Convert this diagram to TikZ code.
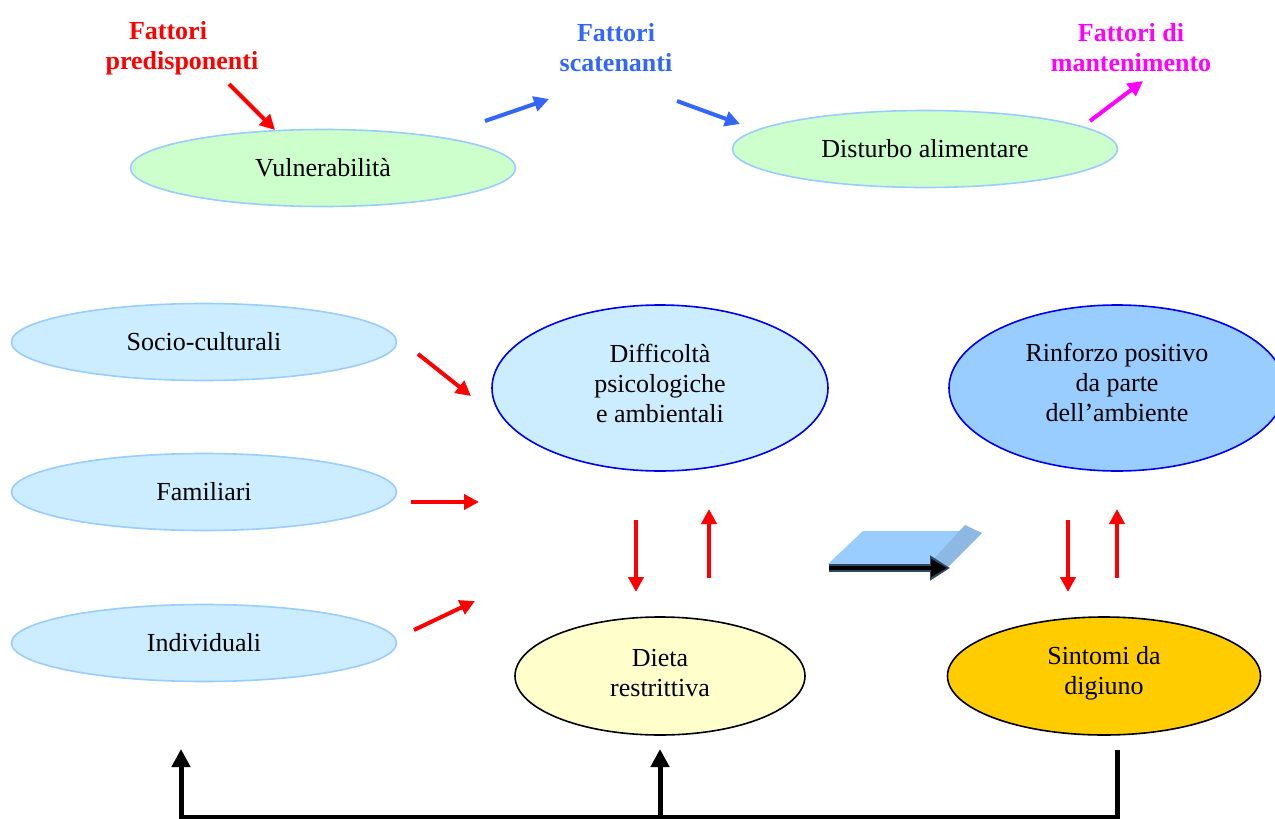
\documentclass[tikz,border=0pt]{standalone}
\usepackage{fontspec}
\setmainfont{Liberation Serif}
\usetikzlibrary{shapes.geometric,arrows.meta}
\definecolor{ellgreen}{HTML}{CCFFCC}
\definecolor{edgeblue}{HTML}{99CCFF}
\definecolor{paleblue}{HTML}{CCECFF}
\definecolor{midblue}{HTML}{99CCFF}
\definecolor{strongblue}{HTML}{0000EE}
\definecolor{paleyellow}{HTML}{FFFFCC}
\definecolor{gold}{HTML}{FFCC00}
\definecolor{titlered}{HTML}{FF0000}
\definecolor{titleblue}{HTML}{3366FF}
\definecolor{titlemag}{HTML}{FF00FF}
\definecolor{sideblue}{HTML}{8DB8E3}
\definecolor{arrowedge}{HTML}{2F4A60}
\begin{document}
\begin{tikzpicture}[x=1pt,y=-1pt,
  txt/.style={font=\fontsize{26}{30}\selectfont, align=center},
  ttl/.style={font=\fontsize{26}{30}\selectfont\bfseries, align=center},
  ell/.style={ellipse, inner sep=0pt, line width=1.6pt, txt},
  greenell/.style={ell, fill=ellgreen, draw=edgeblue, minimum width=385pt, minimum height=77pt},
  paleell/.style={ell, fill=paleblue, draw=edgeblue, minimum width=385pt, minimum height=77pt},
  bigell/.style={ell, draw=strongblue, minimum width=336pt, minimum height=166pt},
  lowell/.style={ell, draw=black, minimum height=118pt},
  redarr/.style={draw=titlered, line width=4pt, -{Triangle[length=15pt,width=15pt]}},
  bluearr/.style={draw=titleblue, line width=4pt, -{Triangle[length=15pt,width=15pt]}},
  magarr/.style={draw=titlemag, line width=4pt, -{Triangle[length=15pt,width=15pt]}},
  blackarr/.style={draw=black, line width=5pt, -{Triangle[length=18pt,width=18pt]}},
  blackline/.style={draw=black, line width=5pt}
]
\useasboundingbox (0,0) rectangle (1275,819);
\clip (0,0) rectangle (1275,819);

% titles
\node[ttl, text=titlered] (tpred) at (182,48) {Fattori\hspace*{28pt}\\predisponenti};
\node[ttl, text=titleblue] (tscat) at (616,48) {Fattori\\scatenanti};
\node[ttl, text=titlemag] (tmant) at (1131,48) {Fattori di\\mantenimento};

% top ellipses
\node[greenell] (vul) at (323,168) {Vulnerabilità};
\node[greenell] (dist) at (925,149) {Disturbo alimentare};

% left ellipses
\node[paleell] (socio) at (204,342) {Socio-culturali};
\node[paleell] (fam) at (204,492) {Familiari};
\node[paleell] (ind) at (204,643) {Individuali};

% central ellipses
\node[bigell, fill=paleblue] (diff) at (660,388) {};
\node[txt] (difft) at ([yshift=5pt]diff.center) {Difficoltà\\psicologiche\\e ambientali};
\node[bigell, fill=midblue] (rinf) at (1117,388) {};
\node[txt] (rinft) at ([yshift=5.5pt]rinf.center) {Rinforzo positivo\\da parte\\dell’ambiente};
\node[lowell, fill=paleyellow, minimum width=290pt] (dieta) at (660,676) {};
\node[txt] (dietat) at ([yshift=2.5pt]dieta.center) {Dieta\\restrittiva};
\node[lowell, fill=gold, minimum width=313pt] (sint) at (1104,676) {};
\node[txt] (sintt) at ([yshift=2.5pt]sint.center) {Sintomi da\\digiuno};

% top arrows
\coordinate (a1s) at (229,84);  \coordinate (a1e) at (275,130);
\coordinate (a2s) at (485,121); \coordinate (a2e) at (549,99);
\coordinate (a3s) at (677,101); \coordinate (a3e) at (740,124);
\coordinate (a4s) at (1090,121); \coordinate (a4e) at (1143,81);
\draw[redarr] (a1s) -- (a1e);
\draw[bluearr] (a2s) -- (a2e);
\draw[bluearr] (a3s) -- (a3e);
\draw[magarr] (a4s) -- (a4e);

% left red arrows
\coordinate (r1s) at (418,354); \coordinate (r1e) at (471,396);
\coordinate (r2s) at (411,502); \coordinate (r2e) at (479,502);
\coordinate (r3s) at (414,630); \coordinate (r3e) at (475,601);
\draw[redarr] (r1s) -- (r1e);
\draw[redarr] (r2s) -- (r2e);
\draw[redarr] (r3s) -- (r3e);

% vertical red arrows
\coordinate (d1s) at (636,520); \coordinate (d1e) at (636,592);
\coordinate (u1s) at (709,578); \coordinate (u1e) at (709,509);
\coordinate (d2s) at (1068,520); \coordinate (d2e) at (1068,592);
\coordinate (u2s) at (1117,578); \coordinate (u2e) at (1117,509);
\draw[redarr] (d1s) -- (d1e);
\draw[redarr] (u1s) -- (u1e);
\draw[redarr] (d2s) -- (d2e);
\draw[redarr] (u2s) -- (u2e);

% 3D arrow
\fill[midblue] (828,564) -- (863,531) -- (962,531) -- (932,564) -- cycle;
\fill[sideblue] (930,563) -- (965,525) -- (982,533) -- (946,569) -- cycle;
\coordinate (m1s) at (829,568); \coordinate (m1e) at (950,568);
\draw[draw=arrowedge, line width=8pt, -{Triangle[length=20pt,width=24pt]}] (m1s) -- (m1e);
\draw[draw=black, line width=4.5pt, -{Triangle[length=16pt,width=17pt]}] (m1s) -- ([xshift=-3pt]m1e);

% bottom feedback lines
\coordinate (bR) at (1117,752);
\coordinate (bRc) at (1117,817);
\coordinate (bLc) at (181,817);
\coordinate (bL) at (181,749);
\coordinate (bMc) at (660,817);
\coordinate (bM) at (660,749);
\draw[blackline, line cap=rect] (bR) -- (bRc) -- (bLc);
\draw[blackarr] (bLc) -- (bL);
\draw[blackarr] (bMc) -- (bM);
\end{tikzpicture}
\end{document}
